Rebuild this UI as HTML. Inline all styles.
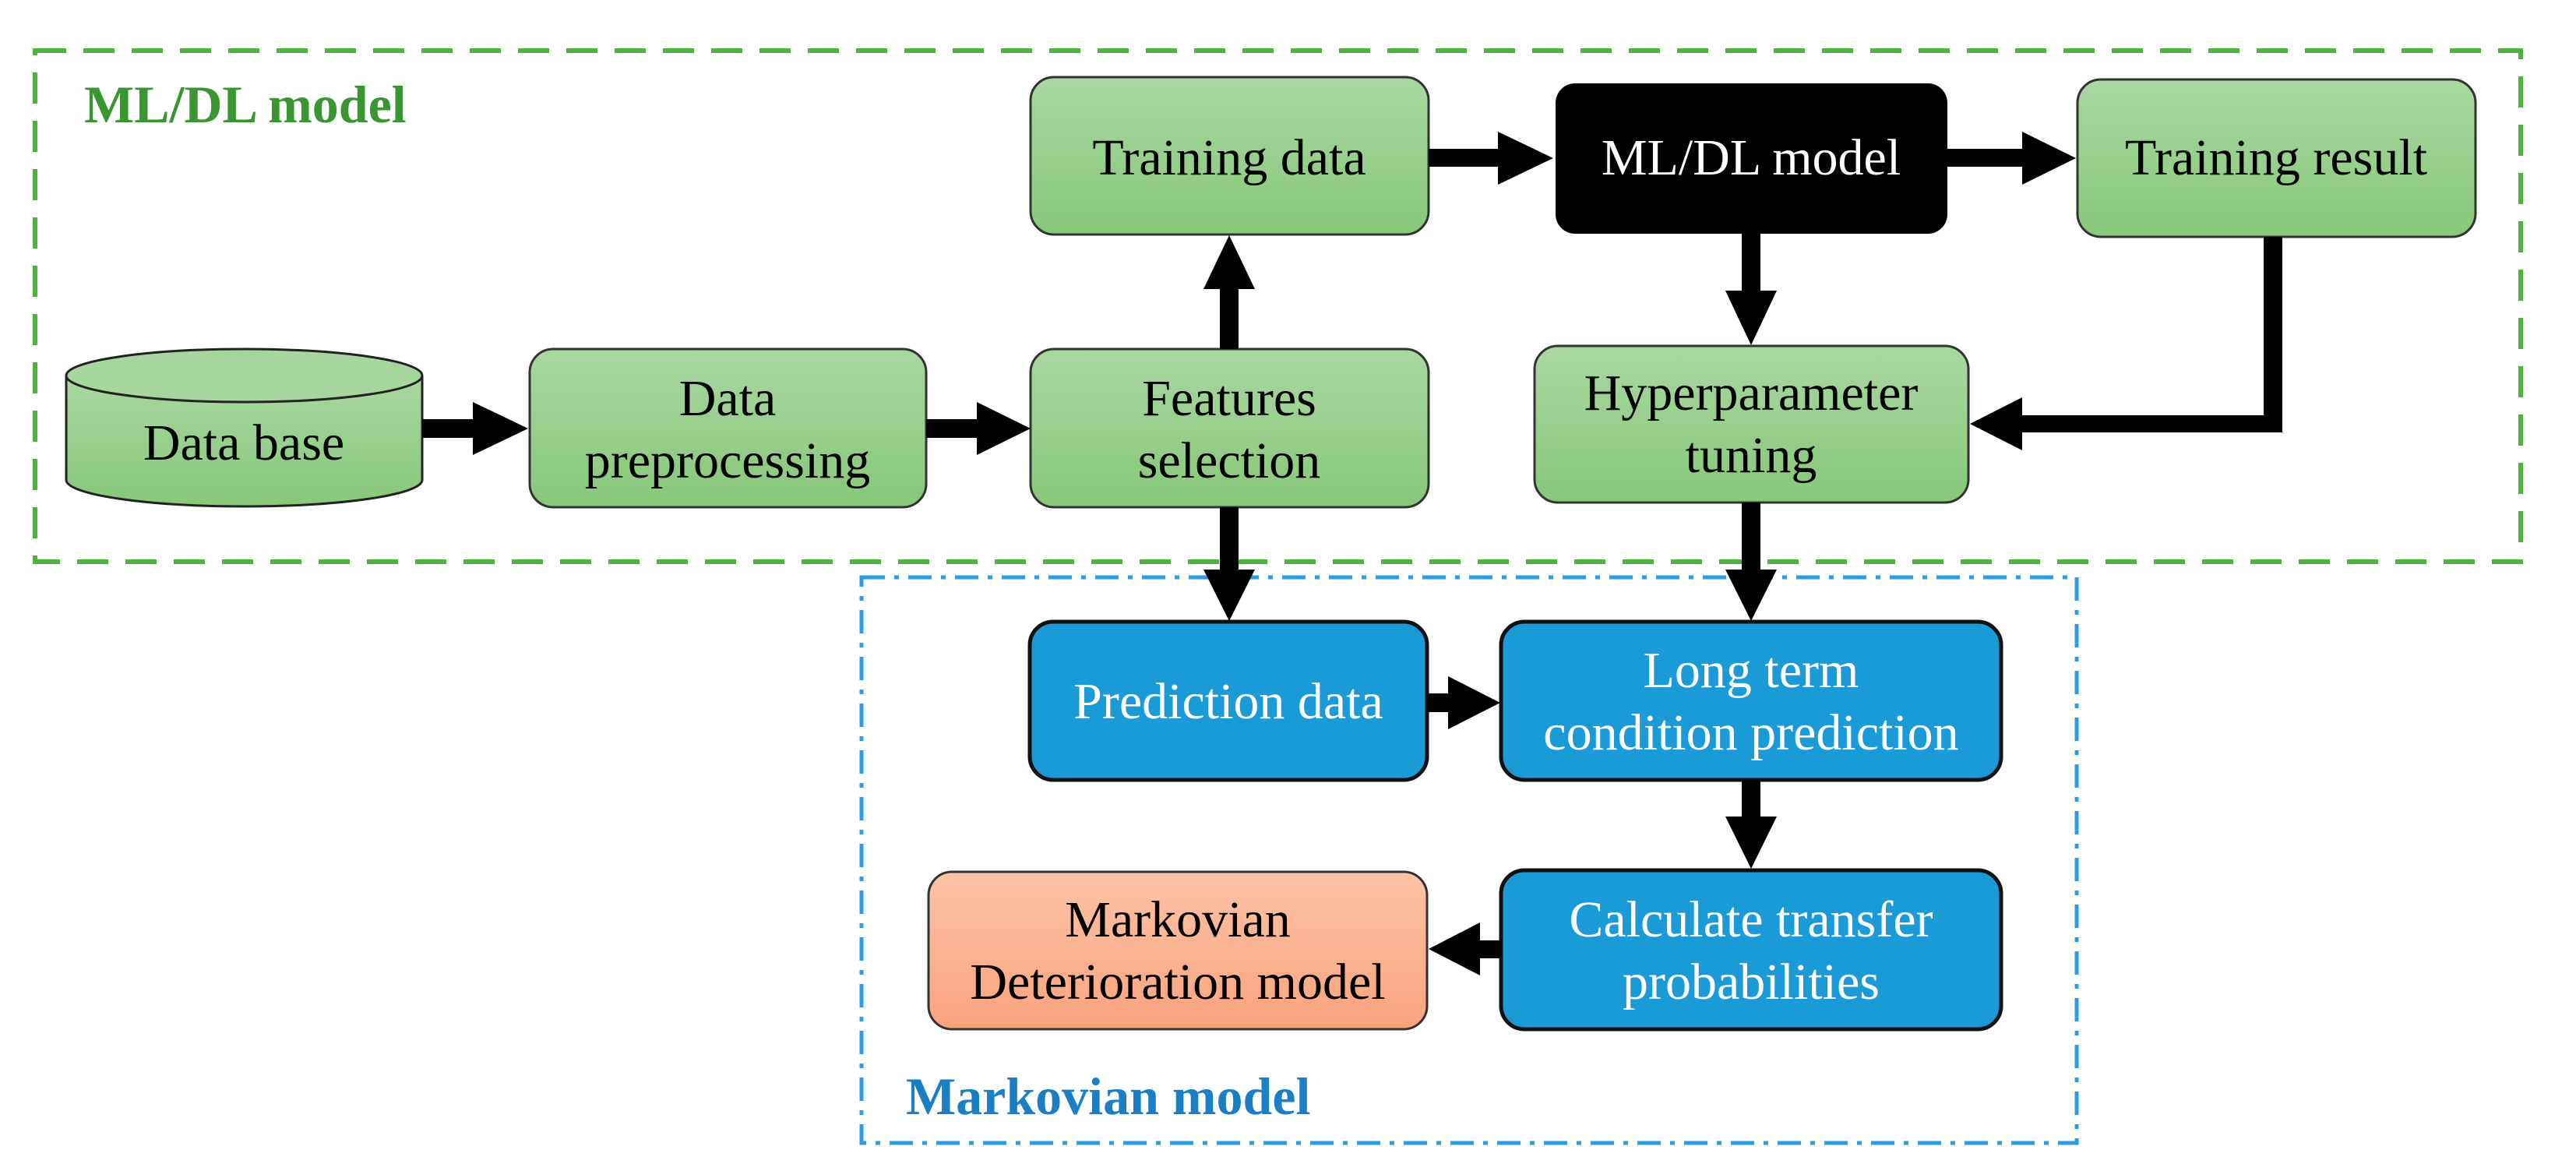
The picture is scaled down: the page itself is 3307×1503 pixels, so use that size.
<!DOCTYPE html>
<html><head><meta charset="utf-8"><style>html,body{margin:0;padding:0;background:#fff}svg{display:block}</style></head>
<body>
<svg width="3307" height="1503" viewBox="0 0 3307 1503" xmlns="http://www.w3.org/2000/svg" font-family="'Liberation Serif', serif">
<defs>
<linearGradient id="g" x1="0" y1="0" x2="0" y2="1"><stop offset="0" stop-color="#a9d7a1"/><stop offset="1" stop-color="#86c878"/></linearGradient>
<linearGradient id="o" x1="0" y1="0" x2="0" y2="1"><stop offset="0" stop-color="#fdc3a6"/><stop offset="1" stop-color="#f9a37d"/></linearGradient>
</defs>
<rect x="45" y="65" width="3191" height="656" fill="none" stroke="#4db33d" stroke-width="6" stroke-dasharray="40 22"/>
<rect x="1106" y="741" width="1560" height="726" fill="none" stroke="#2b9de0" stroke-width="5" stroke-dasharray="30 12 6 12"/>
<text x="108" y="157" font-size="68" font-weight="bold" fill="#3a9630">ML/DL model</text>
<text x="1163" y="1430" font-size="68" font-weight="bold" fill="#1a7fc4">Markovian  model</text>

<path d="M85,482 L85,616 A228.5,34 0 0 0 542,616 L542,482" fill="url(#g)" stroke="#222" stroke-width="3"/>
<ellipse cx="313.5" cy="482" rx="228.5" ry="34" fill="#a6d69e" stroke="#222" stroke-width="3"/>
<text x="313" y="590" font-size="66" text-anchor="middle">Data base</text>

<rect x="680" y="448" width="509" height="203" rx="30" fill="url(#g)" stroke="#333" stroke-width="3"/>
<text x="934" y="533" font-size="66" text-anchor="middle">Data</text>
<text x="934" y="613" font-size="66" text-anchor="middle">preprocessing</text>

<rect x="1323" y="448" width="511" height="203" rx="30" fill="url(#g)" stroke="#333" stroke-width="3"/>
<text x="1578" y="533" font-size="66" text-anchor="middle">Features</text>
<text x="1578" y="613" font-size="66" text-anchor="middle">selection</text>

<rect x="1323" y="99" width="511" height="202" rx="30" fill="url(#g)" stroke="#333" stroke-width="3"/>
<text x="1578" y="224" font-size="66" text-anchor="middle">Training  data</text>

<rect x="1997" y="107" width="503" height="193" rx="25" fill="#000"/>
<text x="2248" y="224" font-size="66" text-anchor="middle" fill="#fff">ML/DL model</text>

<rect x="2667" y="102" width="511" height="202" rx="30" fill="url(#g)" stroke="#333" stroke-width="3"/>
<text x="2922" y="224" font-size="66" text-anchor="middle">Training result</text>

<rect x="1970" y="444" width="557" height="201" rx="30" fill="url(#g)" stroke="#333" stroke-width="3"/>
<text x="2248" y="526" font-size="66" text-anchor="middle">Hyperparameter</text>
<text x="2248" y="606" font-size="66" text-anchor="middle">tuning</text>

<rect x="1322" y="798" width="510" height="203" rx="30" fill="#1a9bd7" stroke="#111" stroke-width="5"/>
<text x="1577" y="922" font-size="66" text-anchor="middle" fill="#fff">Prediction  data</text>

<rect x="1927" y="798" width="642" height="203" rx="30" fill="#1a9bd7" stroke="#111" stroke-width="5"/>
<text x="2248" y="882" font-size="66" text-anchor="middle" fill="#fff">Long term</text>
<text x="2248" y="962" font-size="66" text-anchor="middle" fill="#fff">condition prediction</text>

<rect x="1927" y="1117" width="642" height="204" rx="30" fill="#1a9bd7" stroke="#111" stroke-width="5"/>
<text x="2248" y="1202" font-size="66" text-anchor="middle" fill="#fff">Calculate  transfer</text>
<text x="2248" y="1282" font-size="66" text-anchor="middle" fill="#fff">probabilities</text>

<rect x="1192" y="1119" width="640" height="202" rx="30" fill="url(#o)" stroke="#333" stroke-width="3"/>
<text x="1512" y="1202" font-size="66" text-anchor="middle">Markovian</text>
<text x="1512" y="1282" font-size="66" text-anchor="middle">Deterioration model</text>

<g fill="#000">
<rect x="542" y="538" width="66" height="24"/><polygon points="607,516 678,550 607,584"/>
<rect x="1189" y="538" width="66" height="24"/><polygon points="1254,516 1323,550 1254,584"/>
<rect x="1566" y="370" width="24" height="78"/><polygon points="1545,371 1611,371 1578,302"/>
<rect x="1834" y="191" width="90" height="23"/><polygon points="1923,169 1994,203 1923,237"/>
<rect x="2500" y="191" width="97" height="23"/><polygon points="2596,169 2665,203 2596,237"/>
<rect x="2236" y="300" width="24" height="75"/><polygon points="2215,373 2281,373 2248,443"/>
<rect x="2906" y="304" width="24" height="251"/><rect x="2594" y="533" width="336" height="22"/><polygon points="2596,510 2529,544 2596,578"/>
<rect x="1566" y="651" width="24" height="82"/><polygon points="1545,731 1611,731 1578,797"/>
<rect x="2236" y="645" width="24" height="88"/><polygon points="2215,731 2281,731 2248,797"/>
<rect x="1832" y="890" width="29" height="24"/><polygon points="1859,868 1926,902 1859,936"/>
<rect x="2236" y="1001" width="24" height="49"/><polygon points="2215,1048 2281,1048 2248,1115"/>
<rect x="1898" y="1207" width="30" height="23"/><polygon points="1900,1184 1834,1218 1900,1252"/>
</g>
</svg>
</body></html>
